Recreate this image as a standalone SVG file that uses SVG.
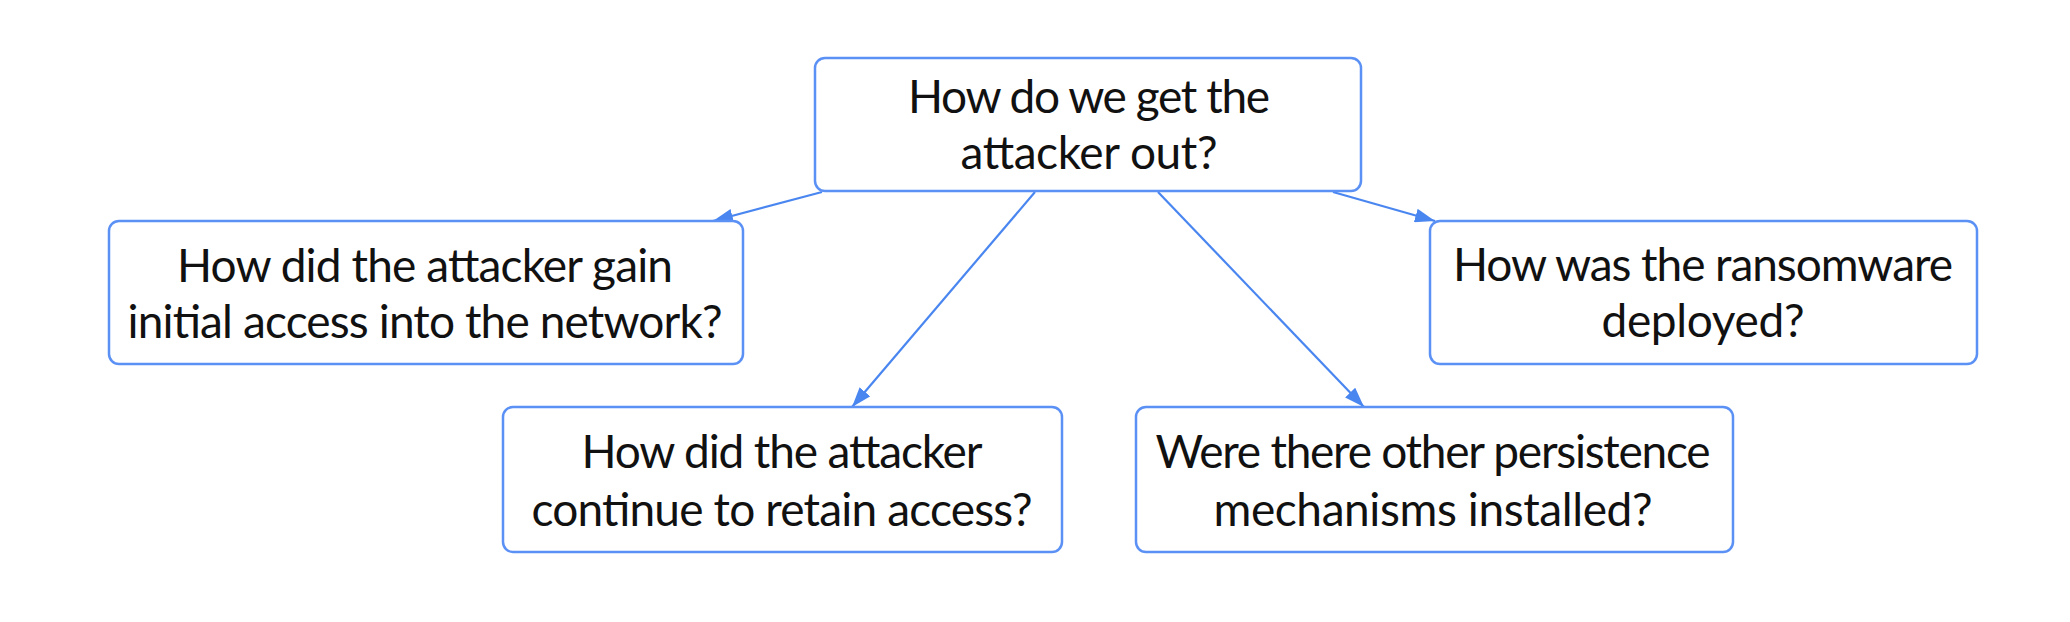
<svg xmlns="http://www.w3.org/2000/svg" width="2070" height="622" viewBox="0 0 2070 622">
<style>
.box{fill:#ffffff;stroke:#5b91f5;stroke-width:2.5}
.lbl{font-family:Lato,"Open Sans","Liberation Sans",sans-serif;font-size:46px;fill:#111111;text-anchor:middle}
.edge{stroke:#4a86f0;stroke-width:2.2;fill:none}
</style>
<defs>
<marker id="arr" markerUnits="userSpaceOnUse" markerWidth="20" markerHeight="14" viewBox="0 0 20 14" refX="20" refY="7" orient="auto">
<path d="M0,0 L20,7 L0,14 z" fill="#4a86f0"/>
</marker>
</defs>
<rect width="2070" height="622" fill="#ffffff"/>
<g id="connectors">
<line class="edge" x1="822" y1="192" x2="713" y2="221" marker-end="url(#arr)"/>
<line class="edge" x1="1035" y1="192" x2="852" y2="407" marker-end="url(#arr)"/>
<line class="edge" x1="1158" y1="192" x2="1364" y2="407" marker-end="url(#arr)"/>
<line class="edge" x1="1333" y1="192" x2="1435" y2="221" marker-end="url(#arr)"/>
</g>
<g id="root">
<rect class="box" x="815" y="58" width="546" height="133" rx="10"/>
<text class="lbl" x="1089" y="113" textLength="362">How do we get the</text>
<text class="lbl" x="1089" y="169" textLength="257">attacker out?</text>
</g>
<g id="initial-access">
<rect class="box" x="109" y="221" width="634" height="143" rx="10"/>
<text class="lbl" x="425" y="282" textLength="496">How did the attacker gain</text>
<text class="lbl" x="425" y="338" textLength="595">initial access into the network?</text>
</g>
<g id="ransomware">
<rect class="box" x="1430" y="221" width="547" height="143" rx="10"/>
<text class="lbl" x="1703" y="281" textLength="500">How was the ransomware</text>
<text class="lbl" x="1703" y="337" textLength="203">deployed?</text>
</g>
<g id="retain-access">
<rect class="box" x="503" y="407" width="559" height="145" rx="10"/>
<text class="lbl" x="782" y="468" textLength="401">How did the attacker</text>
<text class="lbl" x="782" y="526" textLength="501">continue to retain access?</text>
</g>
<g id="persistence">
<rect class="box" x="1136" y="407" width="597" height="145" rx="10"/>
<text class="lbl" x="1433" y="468" textLength="555">Were there other persistence</text>
<text class="lbl" x="1433" y="526" textLength="439">mechanisms installed?</text>
</g>
</svg>
